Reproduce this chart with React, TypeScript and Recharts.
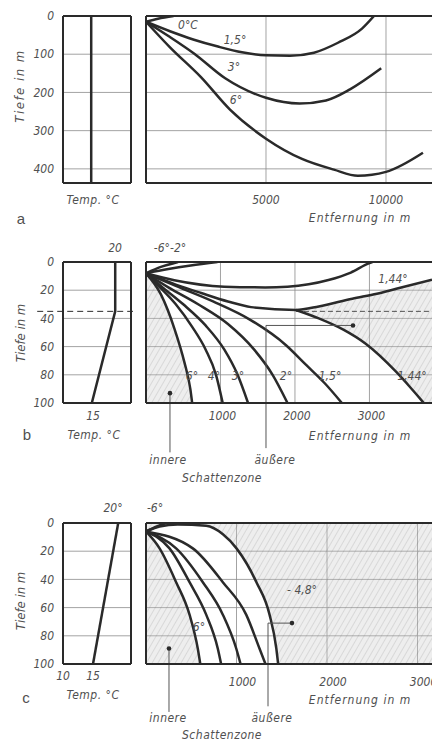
import React from 'react';
import { ComposedChart, Line, Area, XAxis, YAxis, CartesianGrid, ReferenceLine, ReferenceDot } from 'recharts';

const FONT = '"DejaVu Sans Condensed", "Liberation Sans Narrow", "DejaVu Sans", sans-serif';
const INK = '#2a2a2a';
const GRID = '#8c8c8c';
const TXT = '#505050';

// temperature scale of the small boxes (°C)
const tempDomain = [10, 21.33];

// ---- a: isothermal water, depth 0–437 m, distance 0–11917 m
const aDepthTicks = [0, 100, 200, 300, 400];
const aDistTicks = [5000, 10000];
const aTemp = [{ t: 14.7, d: 0 }, { t: 14.7, d: 437 }];
const aRay0 = [{ x: 0, d: 15 }, { x: 500, d: 7 }, { x: 1150, d: 0 }];
const aRay15 = [
  { x: 0, d: 15 }, { x: 1000, d: 40 }, { x: 2000, d: 62 }, { x: 3000, d: 80 }, { x: 4000, d: 95 },
  { x: 5000, d: 103 }, { x: 6000, d: 104 }, { x: 7000, d: 96 }, { x: 8000, d: 70 }, { x: 9000, d: 33 }, { x: 9500, d: 0 },
];
const aRay3 = [
  { x: 0, d: 15 }, { x: 1000, d: 55 }, { x: 2000, d: 98 }, { x: 3300, d: 163 }, { x: 5000, d: 214 },
  { x: 6400, d: 229 }, { x: 7500, d: 221 }, { x: 8500, d: 192 }, { x: 9800, d: 137 },
];
const aRay6 = [
  { x: 0, d: 15 }, { x: 1000, d: 82 }, { x: 2290, d: 160 }, { x: 3500, d: 245 }, { x: 5000, d: 321 },
  { x: 6500, d: 374 }, { x: 7830, d: 402 }, { x: 8830, d: 418 }, { x: 10000, d: 408 }, { x: 11540, d: 358 },
];

// ---- b: warm surface layer over a thermocline, depth 0–100 m, distance 0–3840 m
const bDepthTicks = [0, 20, 40, 60, 80, 100];
const bDistTicks = [1000, 2000, 3000];
const bTempTicks = [15];
const bLayer = 35;
const bTemp = [{ t: 18.7, d: 0 }, { t: 18.7, d: 35 }, { t: 14.8, d: 100 }];
const bRayM6 = [{ x: 0, d: 8 }, { x: 200, d: 3.5 }, { x: 430, d: 0 }];
const bRayM2 = [{ x: 0, d: 8 }, { x: 300, d: 5 }, { x: 600, d: 2.5 }, { x: 960, d: 0 }];
const bRayFlat = [
  { x: 0, d: 8 }, { x: 380, d: 13 }, { x: 1050, d: 17.5 }, { x: 1600, d: 18 }, { x: 1900, d: 17.5 },
  { x: 2450, d: 12.8 }, { x: 2750, d: 7.5 }, { x: 2990, d: 1 }, { x: 3040, d: 0 },
];
const bRay144 = [
  { x: 0, d: 8 }, { x: 400, d: 16 }, { x: 740, d: 22 }, { x: 1100, d: 28 }, { x: 1410, d: 32 }, { x: 2013, d: 34 },
  { x: 2320, d: 31.5 }, { x: 2770, d: 26 }, { x: 3100, d: 22.5 }, { x: 3360, d: 19 }, { x: 3840, d: 12.5 },
];
const bRay144Low = [
  { x: 2013, d: 34 }, { x: 2320, d: 40 }, { x: 2650, d: 48 }, { x: 2950, d: 58 }, { x: 3360, d: 78 },
  { x: 3550, d: 89 }, { x: 3714, d: 99 }, { x: 3730, d: 100 },
];
const bRay15 = [
  { x: 0, d: 8 }, { x: 400, d: 17 }, { x: 900, d: 28 }, { x: 1400, d: 41 }, { x: 1880, d: 59 },
  { x: 2150, d: 73 }, { x: 2400, d: 86 }, { x: 2630, d: 100 },
];
const bRay2 = [{ x: 0, d: 8 }, { x: 300, d: 18 }, { x: 700, d: 30 }, { x: 1100, d: 44 }, { x: 1450, d: 62 }, { x: 1700, d: 80 }, { x: 1900, d: 100 }];
const bRay3 = [{ x: 0, d: 8 }, { x: 200, d: 17 }, { x: 500, d: 30 }, { x: 800, d: 45 }, { x: 1050, d: 62 }, { x: 1230, d: 80 }, { x: 1370, d: 100 }];
const bRay4 = [{ x: 0, d: 8 }, { x: 150, d: 16 }, { x: 400, d: 30 }, { x: 620, d: 46 }, { x: 800, d: 62 }, { x: 940, d: 80 }, { x: 1030, d: 100 }];
const bRay6 = [{ x: 0, d: 8 }, { x: 200, d: 23 }, { x: 380, d: 47 }, { x: 515, d: 71 }, { x: 595, d: 90 }, { x: 620, d: 100 }];
const bOuterZone = [
  { x: 2013, r: [34, 34] }, { x: 2320, r: [31.5, 40] }, { x: 2650, r: [27.5, 48] }, { x: 2950, r: [24, 58] },
  { x: 3360, r: [19, 78] }, { x: 3550, r: [17, 89] }, { x: 3714, r: [14.5, 99] }, { x: 3840, r: [12.5, 100] },
];

// ---- c: temperature falling from the surface, depth 0–100 m, distance 0–3160 m
const cDepthTicks = [0, 20, 40, 60, 80, 100];
const cDistTicks = [1000, 2000, 3000];
const cTempTicks = [10, 15];
const cTemp = [{ t: 19.2, d: 0 }, { t: 15, d: 100 }];
const cRayM6 = [{ x: 0, d: 6 }, { x: 120, d: 2.5 }, { x: 220, d: 0 }];
const cRay48 = [
  { x: 0, d: 6 }, { x: 150, d: 2.5 }, { x: 350, d: 1 }, { x: 665, d: 2 }, { x: 850, d: 8 }, { x: 1000, d: 18 },
  { x: 1220, d: 42 }, { x: 1365, d: 65 }, { x: 1440, d: 89 }, { x: 1460, d: 100 },
];
const cRayA = [{ x: 0, d: 6 }, { x: 517, d: 18 }, { x: 849, d: 42 }, { x: 1107, d: 65 }, { x: 1254, d: 89 }, { x: 1320, d: 100 }];
const cRayB = [{ x: 0, d: 6 }, { x: 333, d: 18 }, { x: 628, d: 42 }, { x: 849, d: 65 }, { x: 997, d: 89 }, { x: 1045, d: 100 }];
const cRayC = [{ x: 0, d: 6 }, { x: 260, d: 18 }, { x: 481, d: 42 }, { x: 665, d: 65 }, { x: 793, d: 89 }, { x: 830, d: 100 }];
const cRay6 = [{ x: 0, d: 6 }, { x: 150, d: 18 }, { x: 333, d: 42 }, { x: 481, d: 65 }, { x: 572, d: 89 }, { x: 600, d: 100 }];
const cOuterZone = [
  { x: 0, r: [0, 6] }, { x: 150, r: [0, 2.5] }, { x: 350, r: [0, 1] }, { x: 665, r: [0, 2] }, { x: 850, r: [0, 8] },
  { x: 1000, r: [0, 18] }, { x: 1220, r: [0, 42] }, { x: 1365, r: [0, 65] }, { x: 1440, r: [0, 89] },
  { x: 1460, r: [0, 100] }, { x: 3160, r: [0, 100] },
];

const tick = { fontSize: 12, fill: TXT, fontStyle: 'italic', fontFamily: FONT };

function Txt({ x, y, children, size = 12, rotate = 0, italic = true, ls = 0 }: any) {
  return (
    <div
      style={{
        position: 'absolute', left: x, top: y, transform: `translate(-50%, -50%) rotate(${rotate}deg)`,
        fontSize: size, fontStyle: italic ? 'italic' : 'normal', letterSpacing: ls, whiteSpace: 'nowrap',
        color: TXT, lineHeight: 1, fontFamily: italic ? FONT : '"Liberation Sans", Arial, sans-serif',
      }}
    >
      {children}
    </div>
  );
}

function Hatch({ id }: { id: string }) {
  return (
    <defs>
      <pattern id={id} width="5" height="5" patternUnits="userSpaceOnUse" patternTransform="rotate(30)">
        <rect width="5" height="5" fill="#c8c8c8" fillOpacity={0.5} />
        <line x1="0" y1="0" x2="0" y2="5" stroke="#777" strokeWidth={0.7} />
      </pattern>
    </defs>
  );
}

const ray = (data: any[], key: string) => (
  <Line key={key} data={data} dataKey="d" type="monotone" stroke={INK} strokeWidth={2.5} dot={false} isAnimationActive={false} />
);

function TempBox({ top, h, yMax, yTicks, temp, tTicks, tMargin, dashed }: any) {
  return (
    <div style={{ position: 'absolute', left: 0, top: top - 10 }}>
      <ComposedChart width={133} height={10 + h + 24} margin={{ top: 10, right: 2, bottom: 0, left: 0 }}>
        <CartesianGrid horizontalValues={yTicks} vertical={false} stroke={GRID} strokeWidth={0.8} />
        <XAxis type="number" dataKey="t" domain={tempDomain} ticks={tTicks || []} allowDataOverflow
          axisLine={false} tickLine={false} tickMargin={tMargin} height={24} tick={tick} interval={0} />
        <YAxis type="number" dataKey="d" reversed domain={[0, yMax]} ticks={yTicks} allowDataOverflow
          axisLine={false} tickLine={false} tickMargin={3} width={63} tick={tick} interval={0} />
        {dashed !== undefined && (
          <ReferenceLine segment={[{ x: 5.7, y: dashed }, { x: 22.3, y: dashed }]} ifOverflow="visible"
            stroke={INK} strokeWidth={1} strokeDasharray="6 4" />
        )}
        <Line data={temp} dataKey="d" type="linear" stroke={INK} strokeWidth={2.5} dot={false} isAnimationActive={false} />
        <ReferenceLine y={0} stroke={INK} strokeWidth={2} />
        <ReferenceLine y={yMax} stroke={INK} strokeWidth={2} />
        <ReferenceLine x={tempDomain[0]} stroke={INK} strokeWidth={2} />
        <ReferenceLine x={tempDomain[1]} stroke={INK} strokeWidth={2} />
      </ComposedChart>
    </div>
  );
}

function RayBox({ top, h, xMax, yMax, xTicks, yGrid, tMargin, tickDx, children }: any) {
  return (
    <div style={{ position: 'absolute', left: 140, top: top - 10 }}>
      <ComposedChart width={292} height={10 + h + 24 + 34} margin={{ top: 10, right: 0, bottom: 34, left: 6 }}>
        {children[0]}
        <CartesianGrid horizontalValues={yGrid} verticalValues={xTicks} stroke={GRID} strokeWidth={0.8} />
        <XAxis type="number" dataKey="x" domain={[0, xMax]} ticks={xTicks} allowDataOverflow interval={0}
          axisLine={false} tickLine={false} tickMargin={tMargin} height={24} tick={{ ...tick, dx: tickDx }} />
        <YAxis type="number" dataKey="d" reversed domain={[0, yMax]} allowDataOverflow hide />
        {children.slice(1)}
        <ReferenceLine y={0} stroke={INK} strokeWidth={2} />
        <ReferenceLine y={yMax} stroke={INK} strokeWidth={2} />
        <ReferenceLine x={0} stroke={INK} strokeWidth={2} />
      </ComposedChart>
    </div>
  );
}

const pointer = { stroke: '#555', strokeWidth: 1, ifOverflow: 'visible' as const };

export default function App() {
  return (
    <div style={{ position: 'absolute', left: 0, top: 0, width: 432, height: 748, overflow: 'hidden', background: '#fff', fontFamily: FONT }}>
      {/* ---------- a ---------- */}
      <TempBox top={16} h={167} yMax={437} yTicks={aDepthTicks} temp={aTemp} tMargin={4} />
      <RayBox top={16} h={167} xMax={11917} yMax={437} xTicks={aDistTicks} yGrid={[100, 200, 300, 400]} tMargin={6} tickDx={0}>
        {[<Hatch key="h" id="ha" />, ray(aRay0, 'a0'), ray(aRay15, 'a15'), ray(aRay3, 'a3'), ray(aRay6, 'a6')]}
      </RayBox>
      <Txt x={19} y={86} size={13} rotate={-90} ls={1.5}>Tiefe in m</Txt>
      <Txt x={93} y={200} ls={0.5}>Temp. °C</Txt>
      <Txt x={21} y={218} size={15} italic={false}>a</Txt>
      <Txt x={360} y={218} ls={1}>Entfernung in m</Txt>
      <Txt x={188} y={25}>0°C</Txt>
      <Txt x={235} y={40}>1,5°</Txt>
      <Txt x={234} y={67}>3°</Txt>
      <Txt x={236} y={100}>6°</Txt>

      {/* ---------- b ---------- */}
      <TempBox top={262} h={141} yMax={100} yTicks={bDepthTicks} temp={bTemp} tTicks={bTempTicks} tMargin={2} dashed={bLayer} />
      <RayBox top={262} h={141} xMax={3840} yMax={100} xTicks={bDistTicks} yGrid={[20, 40, 60, 80]} tMargin={2} tickDx={2}>
        {[
          <Hatch key="h" id="hb" />,
          <Area key="zi" data={bRay6} dataKey="d" baseValue={100} type="monotone" stroke="none" fill="url(#hb)" isAnimationActive={false} />,
          <Area key="zo" data={bOuterZone} dataKey="r" type="monotone" stroke="none" fill="url(#hb)" isAnimationActive={false} />,
          <ReferenceLine key="dl" segment={[{ x: 2013, y: bLayer }, { x: 3840, y: bLayer }]} stroke={INK} strokeWidth={0.8} strokeDasharray="5 3" />,
          ray(bRayM6, 'm6'), ray(bRayM2, 'm2'), ray(bRayFlat, 'fl'), ray(bRay144, 'u144'), ray(bRay144Low, 'l144'),
          ray(bRay15, 'b15'), ray(bRay2, 'b2'), ray(bRay3, 'b3'), ray(bRay4, 'b4'), ray(bRay6, 'b6'),
          <ReferenceLine key="p1" segment={[{ x: 322, y: 93 }, { x: 322, y: 135 }]} {...pointer} />,
          <ReferenceDot key="d1" x={322} y={93} r={2.3} fill={INK} stroke="none" />,
          <ReferenceLine key="p2" segment={[{ x: 1611, y: 132 }, { x: 1611, y: 45 }]} {...pointer} />,
          <ReferenceLine key="p3" segment={[{ x: 1611, y: 45 }, { x: 2779, y: 45 }]} {...pointer} />,
          <ReferenceDot key="d2" x={2779} y={45} r={2.3} fill={INK} stroke="none" />,
        ]}
      </RayBox>
      <Txt x={115} y={248}>20</Txt>
      <Txt x={170} y={248}>-6°-2°</Txt>
      <Txt x={20} y={333} size={13} rotate={-90}>Tiefe in m</Txt>
      <Txt x={94} y={435} ls={0.5}>Temp. °C</Txt>
      <Txt x={27} y={434} size={15} italic={false}>b</Txt>
      <Txt x={360} y={436} ls={1}>Entfernung in m</Txt>
      <Txt x={393} y={279}>1,44°</Txt>
      <Txt x={192} y={376}>6°</Txt>
      <Txt x={214} y={376}>4°</Txt>
      <Txt x={238} y={376}>3°</Txt>
      <Txt x={286} y={376}>2°</Txt>
      <Txt x={330} y={376}>1,5°</Txt>
      <Txt x={412} y={376}>1,44°</Txt>
      <Txt x={168} y={460} ls={0.5}>innere</Txt>
      <Txt x={275} y={460} ls={0.5}>äußere</Txt>
      <Txt x={222} y={478} ls={0.5}>Schattenzone</Txt>

      {/* ---------- c ---------- */}
      <TempBox top={523} h={141} yMax={100} yTicks={cDepthTicks} temp={cTemp} tTicks={cTempTicks} tMargin={1} />
      <RayBox top={523} h={141} xMax={3160} yMax={100} xTicks={cDistTicks} yGrid={[20, 40, 60, 80]} tMargin={7} tickDx={6}>
        {[
          <Hatch key="h" id="hc" />,
          <Area key="zi" data={cRay6} dataKey="d" baseValue={100} type="monotone" stroke="none" fill="url(#hc)" isAnimationActive={false} />,
          <Area key="zo" data={cOuterZone} dataKey="r" type="monotone" stroke="none" fill="url(#hc)" isAnimationActive={false} />,
          ray(cRayM6, 'm6'), ray(cRay48, 'c48'), ray(cRayA, 'ca'), ray(cRayB, 'cb'), ray(cRayC, 'cc'), ray(cRay6, 'c6'),
          <ReferenceLine key="p1" segment={[{ x: 254, y: 89 }, { x: 254, y: 134 }]} {...pointer} />,
          <ReferenceDot key="d1" x={254} y={89} r={2.3} fill={INK} stroke="none" />,
          <ReferenceLine key="p2" segment={[{ x: 1348, y: 130 }, { x: 1348, y: 71 }]} {...pointer} />,
          <ReferenceLine key="p3" segment={[{ x: 1348, y: 71 }, { x: 1613, y: 71 }]} {...pointer} />,
          <ReferenceDot key="d2" x={1613} y={71} r={2.3} fill={INK} stroke="none" />,
        ]}
      </RayBox>
      <Txt x={113} y={508}>20°</Txt>
      <Txt x={155} y={508}>-6°</Txt>
      <Txt x={20} y={601} size={13} rotate={-90}>Tiefe in m</Txt>
      <Txt x={93} y={695} ls={0.5}>Temp. °C</Txt>
      <Txt x={26} y={697} size={15} italic={false}>c</Txt>
      <Txt x={360} y={700} ls={1}>Entfernung in m</Txt>
      <Txt x={302} y={590}>- 4,8°</Txt>
      <Txt x={199} y={627}>6°</Txt>
      <Txt x={168} y={718} ls={0.5}>innere</Txt>
      <Txt x={272} y={718} ls={0.5}>äußere</Txt>
      <Txt x={222} y={735} ls={0.5}>Schattenzone</Txt>
    </div>
  );
}
